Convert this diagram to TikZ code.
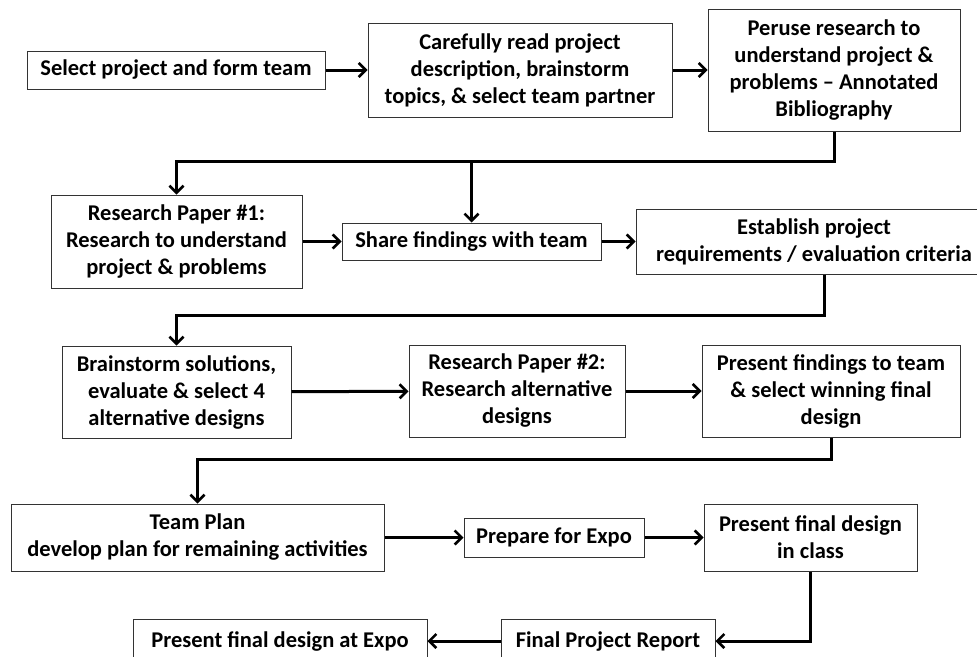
\documentclass[tikz,border=0pt]{standalone}
\usepackage{fontspec}
\setmainfont{Carlito}
\usetikzlibrary{arrows.meta}
\begin{document}
\begin{tikzpicture}[x=1pt,y=-1pt,
  box/.style={draw=black!80, line width=1pt, fill=white, align=center, inner sep=0pt,
    font=\bfseries\fontsize{22.5}{27}\selectfont},
  conn/.style={line width=3pt, -{Straight Barb[length=7pt,width=14pt,line width=2.6pt]}}]
\useasboundingbox (0,0) rectangle (977,656);
\clip (0,0) rectangle (977,656);
\fill[white] (0,0) rectangle (977,656);
\node[box, minimum width=298, minimum height=38] (b1) at (176,70) {Select project and form team};
\node[box, minimum width=304, minimum height=94] (b2) at (520,70) {Carefully read project\\description, brainstorm\\topics, \& select team partner};
\node[box, minimum width=252, minimum height=122] (b3) at (834,70) {Peruse research to\\understand project \&\\problems -- Annotated\\Bibliography};
\node[box, minimum width=251, minimum height=93] (b4) at (176.5,241.5) {Research Paper \#1:\\Research to understand\\project \& problems};
\node[box, minimum width=259, minimum height=37] (b5) at (471.5,241.5) {Share findings with team};
\node[box, minimum width=356, minimum height=65] (b6) at (814,241.5) {Establish project\\requirements / evaluation criteria};
\node[box, minimum width=229, minimum height=92] (b7) at (176.5,392) {Brainstorm solutions,\\evaluate \& select 4\\alternative designs};
\node[box, minimum width=216, minimum height=92] (b8) at (517,391) {Research Paper \#2:\\Research alternative\\designs};
\node[box, minimum width=258, minimum height=92] (b9) at (831,391) {Present findings to team\\\& select winning final\\design};
\node[box, minimum width=373, minimum height=67] (b10) at (197.5,537.5) {Team Plan\\develop plan for remaining activities};
\node[box, minimum width=180, minimum height=39] (b11) at (554,537.5) {Prepare for Expo};
\node[box, minimum width=213, minimum height=67] (b12) at (810.5,537.5) {Present final design\\in class};
\node[box, minimum width=214, minimum height=44] (b13) at (608,641) {Final Project Report};
\node[box, minimum width=294, minimum height=44] (b14) at (280,641) {Present final design at Expo};
\coordinate (j1) at (471.5,161);
\draw[conn] (b1) -- (b2);
\draw[conn] (b2) -- (b3);
\draw[conn] (b3.south) |- (j1) -| (b4.north);
\draw[conn] (j1) -- (b5.north);
\draw[conn] (b4) -- (b5);
\draw[conn] (b5) -- (b6);
\draw[conn] ([xshift=10pt]b6.south) -- ++(0,41) -| (b7.north);
\draw[conn] (b7) -- (b8);
\draw[conn] (b8) -- (b9);
\draw[conn] (b9.south) -- ++(0,22) -| (b10.north);
\draw[conn] (b10) -- (b11);
\draw[conn] (b11) -- (b12);
\draw[conn] (b12.south) |- (b13.east);
\draw[conn] (b13) -- (b14);
\end{tikzpicture}
\end{document}
